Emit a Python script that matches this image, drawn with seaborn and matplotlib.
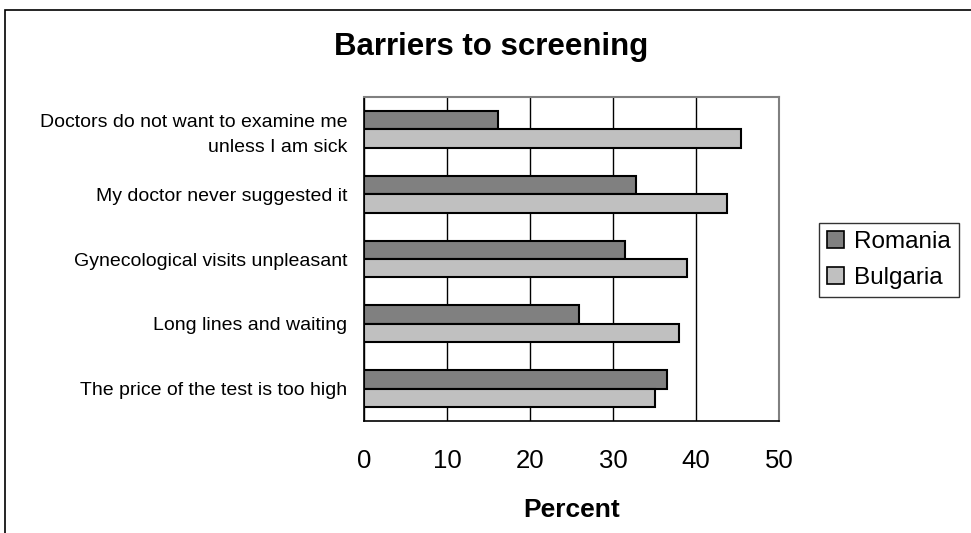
import matplotlib
matplotlib.use("Agg")
import matplotlib.pyplot as plt
import matplotlib.patches as mpatches
from matplotlib.ticker import FixedLocator
import pandas as pd
import seaborn as sns

# Survey answers: share of respondents naming each barrier
barriers = [
    "Doctors do not want to examine me\nunless I am sick",
    "My doctor never suggested it",
    "Gynecological visits unpleasant",
    "Long lines and waiting",
    "The price of the test is too high",
]
romania = [16.2, 32.8, 31.4, 25.9, 36.5]
bulgaria = [45.4, 43.7, 38.9, 37.9, 35.1]
countries = ["Romania", "Bulgaria"]
x_ticks = [0, 10, 20, 30, 40, 50]

df = pd.DataFrame({
    "Barrier": barriers * 2,
    "Country": [countries[0]] * len(barriers) + [countries[1]] * len(barriers),
    "Percent": romania + bulgaria,
})

sns.set_theme(style="white")
plt.rcParams["font.family"] = ["Liberation Sans", "DejaVu Sans"]
plt.rcParams["text.color"] = "black"
plt.rcParams["axes.labelcolor"] = "black"
plt.rcParams["xtick.color"] = "black"
plt.rcParams["ytick.color"] = "black"

fig = plt.figure(figsize=(9.71, 5.33), dpi=100)
ax = fig.add_axes([364 / 971, 1 - 421 / 533, (779 - 364) / 971, (421 - 97) / 533])

sns.barplot(
    data=df, y="Barrier", x="Percent", hue="Country", orient="h",
    order=barriers, hue_order=countries,
    palette=["#808080", "#C0C0C0"], edgecolor="black", linewidth=1.5,
    width=0.57, saturation=1, ax=ax, legend=False,
)

ax.set_xlim(0, 50)
ax.set_ylim(len(barriers) - 0.5, -0.5)
ax.set_xticks(x_ticks)
ax.tick_params(axis="x", labelsize=18.5, length=7, width=1, direction="inout", pad=17)
ax.tick_params(axis="y", which="major", length=0, labelsize=14, pad=12)
for lbl in ax.get_yticklabels():
    lbl.set_linespacing(1.6)
ax.yaxis.set_minor_locator(FixedLocator([i - 0.5 for i in range(len(barriers) + 1)]))
ax.tick_params(axis="y", which="minor", length=7, width=1, direction="out")
ax.xaxis.grid(True, color="black", linewidth=1)
ax.set_axisbelow(True)

for side in ["left", "bottom"]:
    ax.spines[side].set_color("black")
    ax.spines[side].set_linewidth(1.2)
for side in ["top", "right"]:
    ax.spines[side].set_color("#808080")
    ax.spines[side].set_linewidth(1.5)

ax.set_ylabel("")
ax.set_xlabel("Percent", fontsize=19, fontweight="bold", labelpad=18)

fig.text(491 / 971, 1 - 47 / 533, "Barriers to screening", ha="center", va="center",
         fontsize=22.5, fontweight="bold")

handles = [mpatches.Patch(facecolor=c, edgecolor="black", linewidth=1.2, label=n)
           for c, n in zip(["#808080", "#C0C0C0"], countries)]
leg = fig.legend(handles=handles, loc="center", bbox_to_anchor=(889 / 971, 1 - 260 / 533),
                 fontsize=17.5, frameon=True, fancybox=False, handlelength=0.7,
                 handleheight=0.7, handletextpad=0.4, borderpad=0.35, labelspacing=0.55,
                 borderaxespad=0)
leg.get_frame().set_edgecolor("black")
leg.get_frame().set_linewidth(1)

# outer chart frame
fig.patches.append(mpatches.Rectangle((5 / 971, -0.05), 1.0, 1 - 10 / 533 + 0.05,
                                      transform=fig.transFigure, fill=False,
                                      edgecolor="black", linewidth=1.2))

fig.savefig("out.png", dpi=100)
